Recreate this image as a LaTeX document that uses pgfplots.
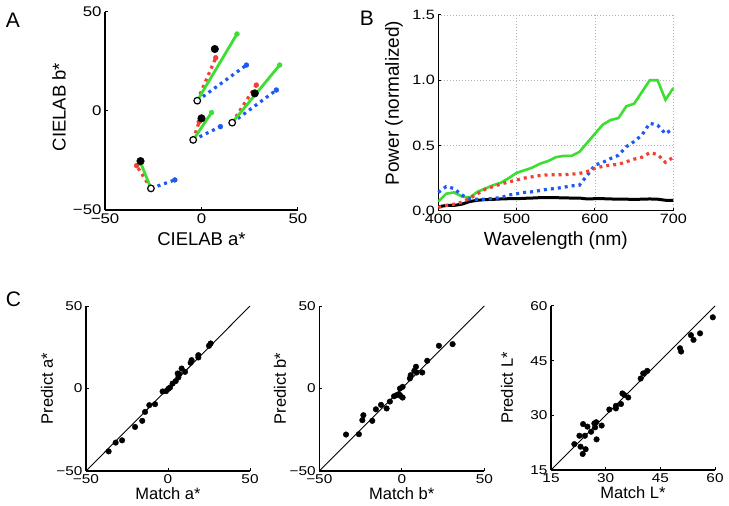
\documentclass[border=0pt]{standalone}
\usepackage{fontspec}
\setmainfont{Liberation Sans}
\newfontfamily\tickfont{Liberation Sans}[FakeStretch=1.2]
\usepackage{pgfplots}
\pgfplotsset{compat=1.18}
\definecolor{mgreen}{RGB}{60,222,50}
\definecolor{mred}{RGB}{240,65,50}
\definecolor{mblue}{RGB}{30,90,240}

\pgfplotsset{
 mat/.style={
  scale only axis,
  anchor=south west,
  axis x line*=bottom, axis y line*=left,
  tick align=inside,
  major tick length=3pt,
  tick style={line width=1pt, black},
  /pgf/number format/assume math mode=true,
  clip=false,
 },
 dotl/.style={line width=3.2pt, dash pattern=on 3pt off 4pt},
 endm/.style={mark=*, mark indices={2}, mark size=2.4pt, mark options={solid, line width=0.5pt}},
}

\begin{document}
\begin{tikzpicture}
\path[use as bounding box] (0,0) rectangle (729pt,506pt);

% ---------------- Panel A ----------------
\begin{axis}[mat, at={(105pt,296pt)}, width=193pt, height=198pt,
 axis line style={-, line width=2pt},
 xmin=-50, xmax=50, ymin=-50, ymax=50,
 xtick={-50,0,50}, ytick={-50,0,50},
 xticklabels={−50,0,50}, yticklabels={−50,0,50},
 tick label style={font=\tickfont\fontsize{14}{16}\selectfont},
 xlabel={CIELAB a*}, ylabel={CIELAB b*},
 label style={font=\fontsize{18.5}{20}\selectfont},
 xlabel style={at={(axis description cs:0.5,-0.146)}, anchor=center},
 ylabel style={at={(axis description cs:-0.238,0.52)}, anchor=center},
]
% blue dotted
\addplot[mblue, dotl, endm] coordinates {(-2.2,5.2) (23.3,23.2)};
\addplot[mblue, dotl, endm] coordinates {(-4.3,-14.6) (9.8,-7.9)};
\addplot[mblue, dotl, endm] coordinates {(15.9,-5.9) (38.8,10.6)};
\addplot[mblue, dotl, endm] coordinates {(-26.2,-39.1) (-13.8,-34.8)};
% red dotted
\addplot[mred, dotl, endm] coordinates {(-2.2,5.2) (7.4,26.9)};
\addplot[mred, dotl, endm] coordinates {(-4.3,-14.6) (-1.2,-5.4)};
\addplot[mred, dotl, endm] coordinates {(15.9,-5.9) (28.4,13.1)};
\addplot[mred, dotl, endm] coordinates {(-26.2,-39.1) (-33.6,-27.6)};
% green solid
\addplot[mgreen, line width=2.8pt, endm] coordinates {(-2.2,5.2) (18.4,38.9)};
\addplot[mgreen, line width=2.8pt, endm] coordinates {(-4.3,-14.6) (5.2,-0.8)};
\addplot[mgreen, line width=2.8pt, endm] coordinates {(15.9,-5.9) (40.5,23.2)};
\addplot[mgreen, line width=2.8pt, endm] coordinates {(-26.2,-39.1) (-31.4,-26.5)};
% matches
\addplot[only marks, mark=*, mark size=3.8pt, black] coordinates {(6.9,31.3) (0,-3.7) (27.6,8.9) (-31.6,-25.3)};
% origins
\addplot[only marks, mark=*, mark size=3.3pt, mark options={draw=black, fill=white, line width=1.2pt}] coordinates {(-2.2,5.2) (-4.3,-14.6) (15.9,-5.9) (-26.2,-39.1)};
\end{axis}

% ---------------- Panel B ----------------
\begin{axis}[mat, at={(438.3pt,295.3pt)}, width=235pt, height=195.7pt,
 axis line style={-, line width=1.6pt},
 xmin=400, xmax=700, ymin=0, ymax=1.5,
 xtick={400,500,600,700}, ytick={0,0.5,1,1.5},
 yticklabels={0.0,0.5,1.0,1.5},
 grid=major,
 major grid style={gray!60, line width=0.7pt, dash pattern=on 1pt off 2pt},
 tick label style={font=\tickfont\fontsize{13.5}{15}\selectfont},
 xlabel={Wavelength (nm)}, ylabel={Power (normalized)},
 label style={font=\fontsize{19}{20}\selectfont},
 xlabel style={at={(axis description cs:0.5,-0.155)}, anchor=center},
 ylabel style={at={(axis description cs:-0.189,0.55)}, anchor=center},
]
\addplot[black, line width=3pt] coordinates {
(400,0.03) (410,0.04) (420,0.04) (430,0.05) (440,0.07) (450,0.08) (460,0.085) (470,0.087) (480,0.09) (490,0.092)
(500,0.092) (510,0.095) (520,0.097) (530,0.10) (540,0.10) (550,0.10) (560,0.098) (570,0.097) (580,0.097) (590,0.09)
(600,0.092) (610,0.092) (620,0.09) (630,0.088) (640,0.088) (650,0.087) (660,0.088) (670,0.09) (680,0.088) (690,0.08) (700,0.08)};
\addplot[mgreen, line width=2.6pt] coordinates {
(400,0.07) (410,0.13) (420,0.14) (430,0.11) (440,0.10) (450,0.145) (460,0.17) (470,0.195) (480,0.215) (490,0.25)
(500,0.29) (510,0.31) (520,0.33) (530,0.36) (540,0.38) (550,0.41) (560,0.42) (570,0.42) (580,0.45) (590,0.52)
(600,0.59) (610,0.66) (620,0.695) (630,0.71) (640,0.80) (650,0.82) (660,0.91) (670,1.0) (680,1.0) (690,0.85) (700,0.94)};
\addplot[mblue, dotl] coordinates {
(400,0.14) (410,0.185) (420,0.17) (430,0.12) (440,0.09) (450,0.087) (460,0.087) (470,0.095) (480,0.10) (490,0.12)
(500,0.13) (510,0.14) (520,0.145) (530,0.155) (540,0.165) (550,0.17) (560,0.18) (570,0.19) (580,0.195) (590,0.27)
(600,0.35) (610,0.37) (620,0.40) (630,0.425) (640,0.49) (650,0.53) (660,0.58) (670,0.67) (680,0.655) (690,0.59) (700,0.63)};
\addplot[mred, dotl] coordinates {
(400,0.025) (410,0.04) (420,0.05) (430,0.065) (440,0.095) (450,0.13) (460,0.165) (470,0.185) (480,0.205) (490,0.22)
(500,0.235) (510,0.25) (520,0.26) (530,0.27) (540,0.275) (550,0.275) (560,0.276) (570,0.28) (580,0.285) (590,0.30)
(600,0.325) (610,0.34) (620,0.35) (630,0.355) (640,0.375) (650,0.395) (660,0.41) (670,0.445) (680,0.43) (690,0.37) (700,0.41)};
\end{axis}

% ---------------- Panel C1 ----------------
\begin{axis}[mat, at={(86pt,35pt)}, width=164pt, height=165pt,
 axis line style={-, line width=1.3pt},
 xmin=-50, xmax=50, ymin=-50, ymax=50,
 xtick={-50,0,50}, ytick={-50,0,50},
 xticklabels={−50,0,50}, yticklabels={−50,0,50},
 tick label style={font=\tickfont\fontsize{12.8}{14}\selectfont},
 xlabel={Match a*}, ylabel={Predict a*},
 label style={font=\fontsize{16.5}{18}\selectfont},
 xlabel style={at={(axis description cs:0.5,-0.135)}, anchor=center},
 ylabel style={at={(axis description cs:-0.238,0.5)}, anchor=center},
]
\addplot[black, line width=0.9pt] coordinates {(-50,-50) (50,50)};
\addplot[only marks, mark=*, mark size=2.8pt, black] coordinates {
(-36.2,-38.1) (-31.9,-32.8) (-28.0,-31.4) (-20.1,-23.3) (-15.7,-19.6) (-14.0,-14.2) (-11.4,-10.1) (-7.9,-9.5)
(-3.3,-1.8) (-1.2,-1.6) (0.2,-0.2) (1.2,0.6) (2.8,3.0) (4.7,4.5) (6.3,6.7) (5.9,9.1) (6.9,8.7) (8.3,12.1)
(10.4,10.1) (13.8,15.6) (14.4,17.2) (18.5,18.8) (18.5,20.2) (25,25.9) (26,27.3)};
\end{axis}

% ---------------- Panel C2 ----------------
\begin{axis}[mat, at={(319.3pt,35pt)}, width=165pt, height=165pt,
 axis line style={-, line width=1.3pt},
 xmin=-50, xmax=50, ymin=-50, ymax=50,
 xtick={-50,0,50}, ytick={-50,0,50},
 xticklabels={−50,0,50}, yticklabels={−50,0,50},
 tick label style={font=\tickfont\fontsize{12.8}{14}\selectfont},
 xlabel={Match b*}, ylabel={Predict b*},
 label style={font=\fontsize{16.5}{18}\selectfont},
 xlabel style={at={(axis description cs:0.5,-0.135)}, anchor=center},
 ylabel style={at={(axis description cs:-0.238,0.5)}, anchor=center},
]
\addplot[black, line width=0.9pt] coordinates {(-50,-50) (50,50)};
\addplot[only marks, mark=*, mark size=2.8pt, black] coordinates {
(-33.8,-27.9) (-26,-27.7) (-23.3,-16.2) (-23.9,-19.2) (-17.9,-19.6) (-15.7,-12.6) (-12.6,-9.9) (-9.2,-12.1)
(-7.2,-7.9) (-4.7,-4.7) (-3.1,-4.0) (-1.7,-3.4) (-0.7,-4.5) (0.5,-5.5) (-1.1,0) (0.5,1.0) (4.9,6.1) (5.4,8.1)
(7.6,10.7) (8.6,13.2) (9.0,9.7) (12.4,9.7) (15.4,16.8) (22.5,25.9) (30.8,26.9)};
\end{axis}

% ---------------- Panel C3 ----------------
\begin{axis}[mat, at={(551pt,36pt)}, width=164pt, height=164pt,
 axis line style={-, line width=1.3pt},
 xmin=15, xmax=60, ymin=15, ymax=60,
 xtick={15,30,45,60}, ytick={15,30,45,60},
 tick label style={font=\tickfont\fontsize{12.8}{14}\selectfont},
 xlabel={Match L*}, ylabel={Predict L*},
 label style={font=\fontsize{16.5}{18}\selectfont},
 xlabel style={at={(axis description cs:0.5,-0.135)}, anchor=center},
 ylabel style={at={(axis description cs:-0.268,0.5)}, anchor=center},
]
\addplot[black, line width=0.9pt] coordinates {(15,15) (60,60)};
\addplot[only marks, mark=*, mark size=2.8pt, black] coordinates {
(21.4,22.1) (22.8,24.4) (23.1,21.4) (23.8,27.6) (23.7,19.4) (24.3,24.4) (24.5,20.7) (25.0,26.9) (26.0,25.5)
(26.9,27.8) (27.1,26.7) (27.5,23.4) (27.4,28.1) (28.9,27.2) (31.0,31.6) (32.8,31.9) (32.8,32.6) (34.2,33.1)
(34.6,36.0) (35.1,35.6) (36.2,34.9) (39.6,40.1) (40.3,41.5) (41.4,42.2) (50.4,48.4) (50.7,47.5) (53.4,52.0)
(54.1,50.7) (55.9,52.5) (59.4,56.9)};
\end{axis}

% panel letters
\node[font=\fontsize{21}{22}\selectfont] at (13pt,486pt) {A};
\node[font=\fontsize{21}{22}\selectfont] at (367pt,488pt) {B};
\node[font=\fontsize{21}{22}\selectfont] at (13.5pt,206.5pt) {C};
\end{tikzpicture}
\end{document}
